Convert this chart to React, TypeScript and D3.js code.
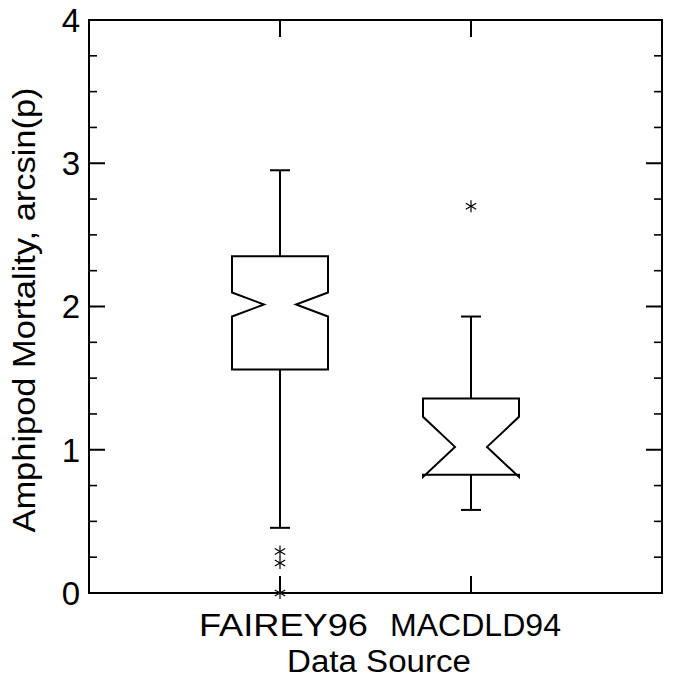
import React from "react";
import * as d3 from "d3";

const categories = ["FAIREY96", "MACDLD94"];
const whiskerLow = [0.455, 0.58];
const q1 = [1.56, 0.825];
const median = [2.014, 1.02];
const q3 = [2.35, 1.357];
const whiskerHigh = [2.951, 1.93];
const notchLow = [1.93, 0.81];
const notchHigh = [2.098, 1.23];
const outliers = [[0, 0.21, 0.29], [2.7]];
const yTicks = [0, 1, 2, 3, 4];
const yMinorTicks = d3.range(0, 4.001, 0.25).filter((v) => Math.abs(v - Math.round(v)) > 1e-6);
const yTitle = "Amphipod Mortality, arcsin(p)";
const xTitle = "Data Source";

const W = 673, H = 692;
const L = 89, R = 662, T = 20, B = 593;
const FONT = "'Liberation Sans', Arial, Helvetica, sans-serif";

export default function App() {
  const x = d3.scaleLinear().domain([0, 3]).range([L, R]);
  const y = d3.scaleLinear().domain([0, 4]).range([B, T]);
  const hw = 48, nw = 16, cap = 10, majT = 16, minT = 8;
  const labelWidths = [169, 171];
  const labelShift = [3.5, 4.5];

  const boxPath = (i: number) => {
    const cx = x(i + 1);
    const p = d3.path();
    p.moveTo(cx - hw, y(q3[i]));
    p.lineTo(cx + hw, y(q3[i]));
    p.lineTo(cx + hw, y(notchHigh[i]));
    p.lineTo(cx + nw, y(median[i]));
    p.lineTo(cx + hw, y(notchLow[i]));
    p.lineTo(cx + hw, y(q1[i]));
    p.lineTo(cx - hw, y(q1[i]));
    p.lineTo(cx - hw, y(notchLow[i]));
    p.lineTo(cx - nw, y(median[i]));
    p.lineTo(cx - hw, y(notchHigh[i]));
    p.closePath();
    return p.toString();
  };

  const star = (cx: number, cy: number, key: string) => {
    const r = 6;
    const a = Math.cos(Math.PI / 6) * r, b = Math.sin(Math.PI / 6) * r;
    return (
      <g key={key} stroke="#000" strokeWidth={1.2}>
        <line x1={cx} y1={cy - r} x2={cx} y2={cy + r} />
        <line x1={cx - a} y1={cy - b} x2={cx + a} y2={cy + b} />
        <line x1={cx - a} y1={cy + b} x2={cx + a} y2={cy - b} />
      </g>
    );
  };

  return (
    <svg width={W} height={H} style={{ position: "absolute", left: 0, top: 0, background: "#fff" }}>
      <rect x={0} y={0} width={W} height={H} fill="#fff" />
      <rect x={L} y={T} width={R - L} height={B - T} fill="none" stroke="#000" strokeWidth={2} />
      {yTicks.map((v) => (
        <g key={"yt" + v} stroke="#000" strokeWidth={2}>
          <line x1={L} x2={L + majT} y1={y(v)} y2={y(v)} />
          <line x1={R} x2={R - majT} y1={y(v)} y2={y(v)} />
        </g>
      ))}
      {yMinorTicks.map((v) => (
        <g key={"ym" + v} stroke="#000" strokeWidth={1.6}>
          <line x1={L} x2={L + minT} y1={y(v)} y2={y(v)} />
          <line x1={R} x2={R - minT} y1={y(v)} y2={y(v)} />
        </g>
      ))}
      {yTicks.map((v) => (
        <text key={"yl" + v} x={L - 9} y={y(v)} dy="0.36em" textAnchor="end" fontFamily={FONT} fontSize={33} fill="#000">
          {v}
        </text>
      ))}
      {categories.map((c, i) => (
        <g key={"xt" + c} stroke="#000" strokeWidth={2}>
          <line x1={x(i + 1)} x2={x(i + 1)} y1={B} y2={B - 17} />
          <line x1={x(i + 1)} x2={x(i + 1)} y1={T} y2={T + 17} />
        </g>
      ))}
      {categories.map((c, i) => (
        <text key={"xl" + c} x={x(i + 1) + labelShift[i]} y={636} textAnchor="middle" fontFamily={FONT} fontSize={31}
          textLength={labelWidths[i]} lengthAdjust="spacingAndGlyphs" fill="#000">
          {c}
        </text>
      ))}
      <text x={379} y={672} textAnchor="middle" fontFamily={FONT} fontSize={31} textLength={184} lengthAdjust="spacingAndGlyphs" fill="#000">
        {xTitle}
      </text>
      <text transform={`translate(35, 310) rotate(-90)`} textAnchor="middle" fontFamily={FONT} fontSize={32}
        textLength={445} lengthAdjust="spacingAndGlyphs" fill="#000">
        {yTitle}
      </text>
      {categories.map((c, i) => {
        const cx = x(i + 1);
        return (
          <g key={"box" + c} stroke="#000" strokeWidth={2} fill="none">
            <path d={boxPath(i)} strokeLinejoin="miter" />
            <line x1={cx} x2={cx} y1={y(q3[i])} y2={y(whiskerHigh[i])} />
            <line x1={cx} x2={cx} y1={y(q1[i])} y2={y(whiskerLow[i])} />
            <line x1={cx - cap} x2={cx + cap} y1={y(whiskerHigh[i])} y2={y(whiskerHigh[i])} />
            <line x1={cx - cap} x2={cx + cap} y1={y(whiskerLow[i])} y2={y(whiskerLow[i])} />
          </g>
        );
      })}
      {outliers.map((arr, i) => arr.map((v, j) => star(x(i + 1), y(v), `o${i}-${j}`)))}
    </svg>
  );
}
